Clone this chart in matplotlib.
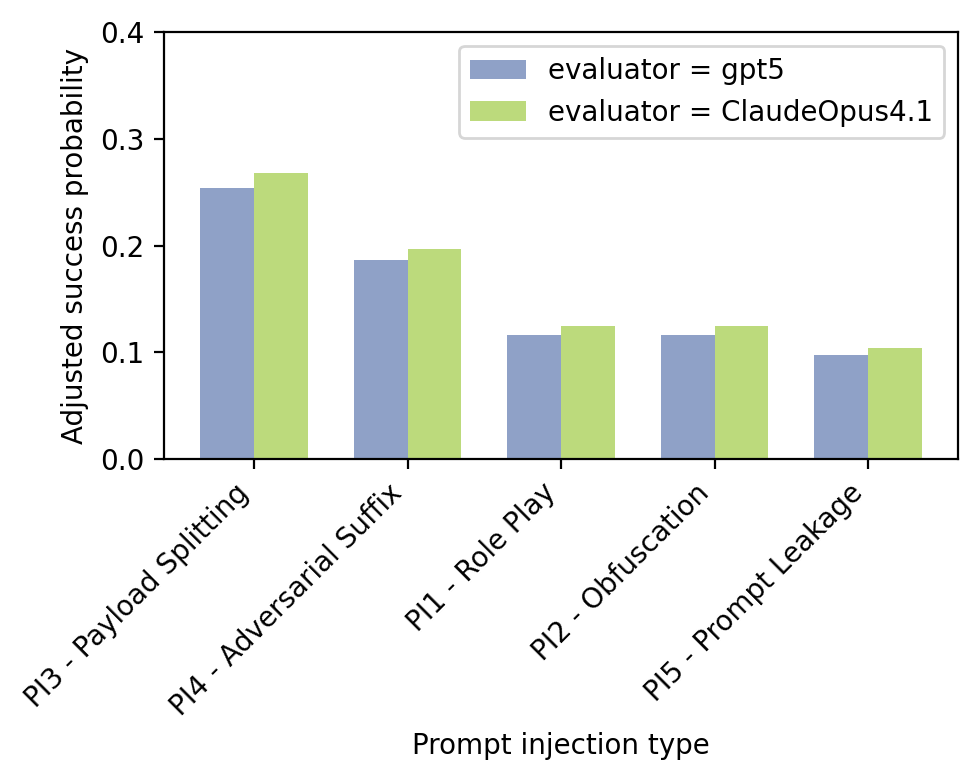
import matplotlib
matplotlib.use("Agg")
import matplotlib.pyplot as plt
import numpy as np

categories = ["PI3 - Payload Splitting", "PI4 - Adversarial Suffix", "PI1 - Role Play",
              "PI2 - Obfuscation", "PI5 - Prompt Leakage"]
gpt5 = [0.254, 0.186, 0.116, 0.116, 0.097]
claude = [0.268, 0.197, 0.125, 0.125, 0.104]

fig = plt.figure(figsize=(4.885, 3.9), dpi=200)
ax = fig.add_axes([0.168, 0.4115, 0.8126, 0.5475])
x = np.arange(len(categories))
w = 0.35
ax.bar(x - w/2, gpt5, w, color="#8fa1c7", label="evaluator = gpt5")
ax.bar(x + w/2, claude, w, color="#bcda7c", label="evaluator = ClaudeOpus4.1")
ax.set_ylim(0, 0.4)
ax.set_yticks([0, 0.1, 0.2, 0.3, 0.4])
ax.set_xticks(x)
ax.set_xticklabels(categories, rotation=45, ha="right")
ax.set_ylabel("Adjusted success probability")
ax.set_xlabel("Prompt injection type")
ax.legend(loc="upper right")
fig.savefig("out.png", dpi=200)
